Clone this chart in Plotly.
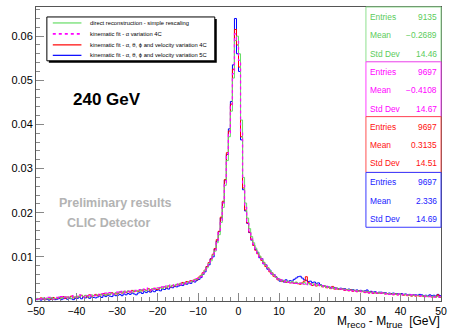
import numpy as np
import plotly.graph_objects as go

# ---------------- data (bin contents in units of 1e-4, 0.5 GeV bins from -50 to 50) ----------------
BIN_LO, BIN_HI, BIN_W = -50.0, 50.0, 0.5
UNIT = 1e-4

green_e4 = [
    6, 3, 5, 7, 4, 6, 5, 8, 4, 6,
    7, 9, 6, 8, 10, 7, 9, 6, 10, 8,
    11, 9, 12, 10, 13, 11, 9, 14, 12, 13,
    14, 12, 16, 15, 13, 17, 15, 18, 16, 19,
    18, 21, 19, 22, 20, 23, 21, 19, 24, 22,
    24, 22, 26, 25, 23, 27, 25, 28, 26, 29,
    29, 31, 28, 33, 31, 35, 33, 36, 35, 38,
    38, 40, 39, 42, 41, 44, 43, 46, 48, 50,
    52, 57, 61, 69, 75, 85, 91, 104, 113, 132,
    150, 178, 212, 262, 318, 372, 430, 505, 590, 600,
    560, 410, 280, 222, 188, 164, 146, 132, 120, 111,
    102, 95, 88, 81, 76, 69, 64, 59, 54, 50,
    48, 45, 47, 43, 45, 42, 44, 41, 43, 40,
    41, 39, 42, 38, 40, 37, 39, 36, 38, 35,
    36, 33, 34, 31, 32, 29, 31, 28, 29, 27,
    28, 26, 27, 25, 26, 24, 25, 23, 24, 22,
    23, 21, 22, 20, 21, 19, 20, 18, 19, 18,
    19, 17, 18, 16, 17, 15, 17, 15, 16, 15,
    15, 14, 15, 13, 14, 12, 13, 12, 13, 12,
    12, 11, 12, 10, 11, 10, 11, 9, 10, 9,
]

magenta_e4 = [
    4, 7, 5, 3, 6, 5, 8, 6, 4, 7,
    8, 6, 10, 7, 9, 11, 7, 8, 12, 9,
    10, 14, 11, 9, 13, 12, 16, 11, 13, 12,
    15, 13, 17, 14, 18, 16, 19, 15, 17, 20,
    20, 18, 22, 19, 23, 21, 25, 20, 22, 24,
    23, 26, 24, 27, 25, 29, 26, 24, 28, 27,
    30, 28, 32, 30, 34, 32, 36, 34, 37, 36,
    39, 37, 41, 40, 43, 42, 45, 47, 46, 51,
    53, 55, 63, 67, 77, 83, 94, 101, 116, 134,
    155, 183, 222, 268, 332, 378, 442, 515, 605, 590,
    545, 385, 262, 212, 181, 159, 140, 129, 116, 108,
    99, 95, 85, 81, 73, 69, 62, 59, 52, 50,
    46, 48, 44, 46, 42, 44, 41, 43, 40, 42,
    40, 42, 38, 41, 37, 39, 36, 38, 35, 37,
    34, 35, 32, 33, 30, 31, 29, 30, 27, 28,
    27, 28, 25, 27, 24, 26, 23, 25, 22, 24,
    22, 23, 20, 22, 19, 21, 18, 20, 18, 19,
    18, 19, 16, 18, 15, 17, 15, 16, 14, 16,
    14, 15, 13, 14, 12, 14, 12, 13, 11, 12,
    11, 12, 10, 11, 10, 11, 9, 10, 9, 10,
]

red_e4 = [
    5, 4, 7, 5, 3, 6, 5, 4, 8, 5,
    6, 8, 7, 10, 6, 9, 8, 11, 7, 9,
    9, 11, 13, 10, 12, 9, 14, 11, 12, 15,
    12, 15, 14, 17, 13, 16, 15, 19, 17, 16,
    17, 20, 18, 21, 19, 22, 20, 24, 21, 23,
    22, 25, 23, 26, 24, 28, 23, 27, 29, 26,
    27, 30, 29, 32, 30, 34, 32, 35, 34, 37,
    37, 40, 42, 39, 44, 43, 46, 45, 49, 48,
    54, 58, 64, 70, 78, 87, 95, 106, 119, 139,
    158, 190, 226, 275, 336, 385, 446, 525, 615, 580,
    530, 372, 256, 206, 177, 156, 139, 126, 115, 107,
    101, 92, 87, 78, 75, 66, 64, 56, 54, 48,
    49, 44, 46, 42, 44, 41, 43, 40, 42, 39,
    38, 41, 45, 55, 42, 39, 35, 38, 34, 36,
    35, 32, 34, 30, 31, 28, 33, 27, 29, 26,
    26, 27, 24, 26, 23, 25, 22, 24, 21, 23,
    21, 22, 19, 21, 18, 20, 17, 19, 17, 18,
    17, 18, 16, 17, 15, 16, 14, 16, 14, 15,
    15, 13, 14, 12, 13, 11, 13, 11, 12, 11,
    12, 10, 11, 10, 11, 9, 10, 9, 14, 8,
]

blue_e4 = [
    3, 4, 2, 5, 3, 4, 2, 5, 4, 3,
    4, 6, 3, 5, 7, 4, 6, 5, 3, 6,
    6, 8, 5, 9, 7, 10, 6, 9, 8, 7,
    9, 11, 8, 12, 10, 13, 11, 10, 14, 12,
    13, 15, 12, 16, 14, 17, 15, 18, 16, 14,
    18, 20, 17, 21, 19, 22, 20, 23, 21, 24,
    25, 23, 27, 26, 29, 27, 31, 30, 33, 32,
    34, 36, 35, 39, 38, 41, 40, 44, 43, 47,
    49, 53, 60, 66, 78, 82, 96, 100, 118, 136,
    157, 188, 224, 274, 332, 390, 452, 535, 640, 560,
    520, 365, 252, 204, 176, 155, 138, 127, 117, 110,
    98, 96, 84, 82, 72, 70, 61, 60, 55, 51,
    45, 47, 43, 48, 44, 46, 45, 49, 52, 55,
    56, 52, 48, 47, 44, 45, 42, 43, 40, 41,
    37, 35, 34, 33, 32, 31, 30, 30, 29, 28,
    29, 27, 28, 26, 27, 25, 26, 24, 25, 23,
    24, 22, 23, 25, 21, 22, 20, 21, 19, 20,
    20, 18, 19, 17, 18, 17, 18, 16, 17, 16,
    17, 15, 16, 14, 15, 13, 14, 14, 13, 15,
    14, 12, 13, 11, 14, 12, 13, 11, 15, 12,
]

series_names = [
    "direct reconstruction - simple rescaling",
    "kinematic fit - α variation 4C",
    "kinematic fit - α, θ, ϕ and velocity variation 4C",
    "kinematic fit - α, θ, ϕ and velocity variation 5C",
]
series_values = [green_e4, magenta_e4, red_e4, blue_e4]
stat_entries = ["9135", "9697", "9697", "9697"]
stat_means = ["−0.2689", "−0.4108", "0.3135", "2.336"]
stat_stddevs = ["14.46", "14.67", "14.51", "14.69"]

x_ticks = [-50, -40, -30, -20, -10, 0, 10, 20, 30, 40, 50]
y_ticks = [0, 0.01, 0.02, 0.03, 0.04, 0.05, 0.06]
y_tick_text = ["0", "0.01", "0.02", "0.03", "0.04", "0.05", "0.06"]

# ---------------- styles ----------------
line_colors = ["#66dd66", "#ff00ff", "#ff0000", "#0000ff"]
line_dash = ["solid", "dot", "solid", "solid"]
line_width = [1.0, 1.2, 1.0, 1.0]
text_colors = ["#5ccc5c", "#ff00ff", "#ff1010", "#1a1aff"]
box_colors = ["#8fe08f", "#ff40ff", "#ff5050", "#3a3aff"]

W, H = 453, 330
L, R, T, B = 36, 446, 6, 301


def fx(p):
    return (p - L) / (R - L)


def fy(p):
    return (B - p) / (B - T)


edges = np.arange(BIN_LO, BIN_HI + BIN_W / 2, BIN_W)

fig = go.Figure()
draw_order = [3, 2, 0, 1]
for i in draw_order:
    vals = np.array(series_values[i], dtype=float) * UNIT
    yy = np.append(vals, vals[-1])
    fig.add_trace(go.Scatter(
        x=edges, y=yy, mode="lines", line_shape="hv",
        line=dict(color=line_colors[i], width=line_width[i], dash=line_dash[i]),
        name=series_names[i], showlegend=False, hoverinfo="skip",
    ))

shapes = []
annotations = []


def txt(x, y, text, size, color, xanchor="center"):
    annotations.append(dict(xref="paper", yref="paper", x=fx(x), y=fy(y), text=text,
                            showarrow=False, xanchor=xanchor, yanchor="middle",
                            borderpad=0, font=dict(size=size, color=color)))


# legend box with shadow
lx0, lx1, ly0, ly1 = 47, 217, 16, 60
shapes.append(dict(type="rect", xref="paper", yref="paper",
                   x0=fx(lx0 + 2), x1=fx(lx1 + 2), y0=fy(ly1 + 2), y1=fy(ly0 + 2),
                   fillcolor="black", line=dict(width=0), layer="above"))
shapes.append(dict(type="rect", xref="paper", yref="paper",
                   x0=fx(lx0), x1=fx(lx1), y0=fy(ly1), y1=fy(ly0),
                   fillcolor="white", line=dict(color="black", width=1), layer="above"))
leg_rows = [22, 33, 44, 54.5]
for i in range(4):
    shapes.append(dict(type="line", xref="paper", yref="paper",
                       x0=fx(53), x1=fx(82), y0=fy(leg_rows[i]), y1=fy(leg_rows[i]),
                       line=dict(color=line_colors[i], width=1.2 if i != 1 else 1.6,
                                 dash=line_dash[i]), layer="above"))
    txt(90, leg_rows[i], series_names[i], 5.8, "black", "left")

# stats boxes
box_tops = [6, 61, 116, 172]
box_h = [55, 55, 56, 55]
row_off = [10, 28.5, 47]
labels = ["Entries", "Mean", "Std Dev"]
for i in range(4):
    t0 = box_tops[i]
    shapes.append(dict(type="rect", xref="paper", yref="paper",
                       x0=fx(370), x1=fx(446), y0=fy(t0 + box_h[i]), y1=fy(t0),
                       fillcolor="white", line=dict(color=box_colors[i], width=1),
                       layer="above"))
    vals = [stat_entries[i], stat_means[i], stat_stddevs[i]]
    for k in range(3):
        txt(373.5, t0 + row_off[k], labels[k], 8.4, text_colors[i], "left")
        txt(442.5, t0 + row_off[k], vals[k], 8.4, text_colors[i], "right")

# texts
txt(108, 98.5, "<b>240 GeV</b>", 17, "black")
txt(116, 203, "<b>Preliminary results</b>", 12.5, "#b3b3b3")
txt(109, 223, "<b>CLIC Detector</b>", 12.5, "#b3b3b3")
txt(446, 322.5,
    "M<sub><span style='font-size:9.5px'>reco</span></sub> - "
    "M<sub><span style='font-size:9.5px'>true</span></sub>&nbsp;&nbsp;[GeV]",
    12, "black", "right")

fig.update_layout(
    width=W, height=H,
    margin=dict(l=L, r=W - R, t=T, b=H - B, pad=0),
    paper_bgcolor="white", plot_bgcolor="white",
    font=dict(family="Liberation Sans, Arial, Helvetica, sans-serif", color="black"),
    showlegend=False,
    shapes=shapes, annotations=annotations,
    xaxis=dict(range=[BIN_LO, BIN_HI], tickmode="array", tickvals=x_ticks,
               ticktext=[("−" + str(-v)) if v < 0 else str(v) for v in x_ticks],
               ticks="inside", ticklen=8, tickcolor="#888888", tickwidth=1,
               minor=dict(dtick=2, ticks="inside", ticklen=4, tickcolor="#888888", tickwidth=1),
               showgrid=False, zeroline=False, showline=True, linecolor="#555555", linewidth=1,
               mirror=True, tickfont=dict(size=10.5, color="black")),
    yaxis=dict(range=[0, 0.0666], tickmode="array", tickvals=y_ticks, ticktext=y_tick_text,
               ticks="inside", ticklen=8, tickcolor="#888888", tickwidth=1,
               minor=dict(dtick=0.002, tick0=0, ticks="inside", ticklen=4, tickcolor="#888888", tickwidth=1),
               showgrid=False, zeroline=False, showline=True, linecolor="#555555", linewidth=1,
               mirror=True, tickfont=dict(size=11, color="black")),
)

fig.write_html("out.html")
